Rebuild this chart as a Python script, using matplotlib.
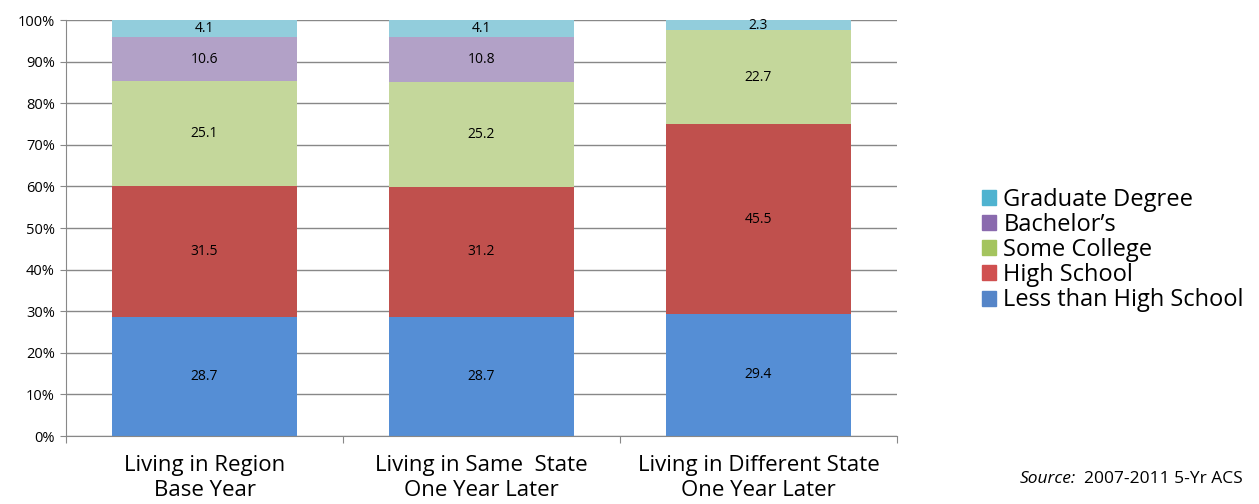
import numpy as np
import matplotlib.pyplot as plt
import matplotlib.patches as mpatches

plt.rc('font', family=['Open Sans', 'DejaVu Sans'])

categories = ['Living in Region\nBase Year',
              'Living in Same  State\nOne Year Later',
              'Living in Different State\nOne Year Later']
series = ['Less than High School', 'High School', 'Some College',
          "Bachelor\u2019s", 'Graduate Degree']
less_hs = [28.7, 28.7, 29.4]
high_school = [31.5, 31.2, 45.5]
some_college = [25.1, 25.2, 22.7]
bachelors = [10.6, 10.8, 0.0]
graduate = [4.1, 4.1, 2.3]

values = [less_hs, high_school, some_college, bachelors, graduate]
bar_colors = ['#558ed5', '#c0504d', '#c4d79b', '#b2a1c7', '#92cddc']
legend_colors = ['#5585c8', '#d05050', '#a4c45e', '#8a6aae', '#4fb3d0']

fig = plt.figure(figsize=(12.59, 5.04), dpi=100)
ax = fig.add_axes([66/1259, 68/504, 831/1259, 416/504])

x = np.arange(len(categories))
bottom = np.zeros(len(categories))
for vals, col in zip(values, bar_colors):
    v = np.array(vals) / 100
    ax.bar(x, v, 0.665, bottom=bottom, color=col, zorder=2)
    for xi, vi, bi in zip(x, v, bottom):
        if vi > 0:
            ax.text(xi, bi + vi / 2, f'{vi*100:.1f}', ha='center', va='center',
                    fontsize=10, zorder=3)
    bottom += v

ax.set_xlim(-0.5, 2.5)
ax.set_ylim(0, 1)
ax.set_yticks(np.arange(0, 1.01, 0.1))
ax.set_yticklabels([f'{int(t*100)}%' for t in np.arange(0, 1.01, 0.1)], fontsize=10.5)
ax.yaxis.grid(True, color='#888888', linewidth=1, zorder=0)
ax.set_axisbelow(True)
ax.set_xticks([-0.5, 0.5, 1.5, 2.5])
ax.set_xticklabels([])
ax.tick_params(axis='x', length=5, color='#888888')
ax.tick_params(axis='y', length=4, color='#888888', pad=4)
for s in ['top', 'right']:
    ax.spines[s].set_visible(False)
for s in ['left', 'bottom']:
    ax.spines[s].set_color('#888888')

for xi, lab in zip(x, categories):
    ax.text(xi, -0.046, lab, ha='center', va='top', fontsize=16,
            linespacing=1.25, transform=ax.get_xaxis_transform())

handles = [mpatches.Patch(color=c, label=l) for c, l in zip(legend_colors, series)]
fig.legend(handles[::-1], series[::-1], loc='center left',
           bbox_to_anchor=(982/1259, 1 - 250/504), frameon=False,
           fontsize=17, handlelength=0.6, handleheight=0.6, handletextpad=0.3,
           labelspacing=0.05, borderpad=0, borderaxespad=0)

fig.text(1020/1259, 1 - 479/504, 'Source:', style='italic', fontsize=12.5,
         va='center', ha='left')
fig.text(1084/1259, 1 - 479/504, '2007-2011 5-Yr ACS', fontsize=12.5,
         va='center', ha='left')

plt.savefig('out.png', dpi=100)
